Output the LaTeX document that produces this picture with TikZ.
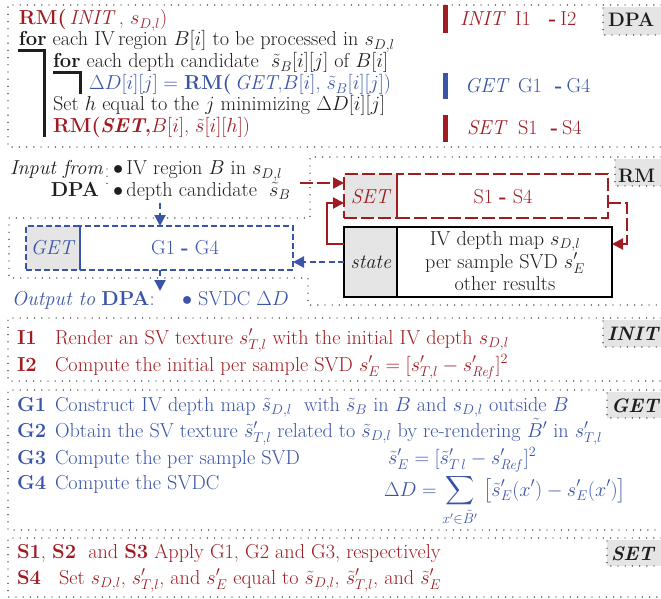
\RequirePackage{fix-cm}
\documentclass[tikz,border=0pt]{standalone}
\usepackage{amsmath,amssymb}
\usetikzlibrary{arrows.meta,calc}
\definecolor{dred}{RGB}{158,28,34}
\definecolor{dblue}{RGB}{58,84,168}
\definecolor{lgray}{RGB}{229,229,229}
\definecolor{ink}{RGB}{30,30,30}

\begin{document}
\begin{tikzpicture}[x=1pt,y=-1pt,
  every node/.style={font=\fontsize{20.2}{24}\selectfont, inner sep=0pt, outer sep=0pt, text=ink},
  txt/.style={anchor=base west},
  ctxt/.style={anchor=base},
  tagfont/.style={font=\fontsize{19.5}{23}\selectfont},
  dots/.style={line width=1.4pt, dash pattern=on 0pt off 7.2pt, line cap=round, draw=ink},
  redbox/.style={draw=dred, line width=2.4pt, dash pattern=on 13pt off 4pt},
  bluebox/.style={draw=dblue, line width=2.4pt, dash pattern=on 6pt off 3pt},
  blackbox/.style={draw=black, line width=2.4pt},
  tip/.style={-{Triangle[length=11pt,width=11pt]}},
  redarrow/.style={tip, draw=dred, line width=2.2pt},
  bluearrow/.style={tip, draw=dblue, line width=2.2pt, dash pattern=on 6pt off 3.5pt},
  bracket/.style={line width=3pt, draw=ink},
  bar/.style={line width=5pt},
]
\path[use as bounding box] (0,0) rectangle (661,599);
\clip (0,0) rectangle (661,599);

% ---------------- DPA: the outer search loop ----------------
\draw[dots] (661,5) -- (8,5) -- (8,147) -- (661,147);
\fill[lgray] (603,7) rectangle (661,35);
\draw[dots] (603,8) -- (603,35) -- (661,35);
\node[txt, tagfont] (dpatag) at (608,27) {\textbf{DPA}};

\node[txt, text=dred] (l1) at (19,25) {\textbf{RM(}\,\textit{INIT}\,, $s_{D,l}$)};
\node[txt] (l2) at (19,46) {\textbf{for} each IV\,region $B[i]$ to be processed in $s_{D,l}$};
\node[txt] (l3) at (53,68) {\textbf{for} each depth candidate \ $\tilde s_B[i][j]$ of $B[i]$};
\node[txt, text=dblue] (l4) at (89,90) {$\Delta D[i][j]=$ \textbf{RM(}\,\textit{GET},$B[i]$, $\tilde s_B[i][j]$)};
\node[txt] (l5) at (53,111) {Set $h$ equal to the $j$ minimizing $\Delta D[i][j]$};
\node[txt, text=dred] (l6) at (53,133) {\textbf{RM(\textit{SET},}$B[i]$, $\tilde s[i][h]$)};

% loop brackets (underline of "for" turning down)
\draw[bracket] (18,50.5) -| (44,137);
\draw[bracket] (53,73) -| (80,94);

% colour bars with the routine names
\draw[bar, dred] (445.5,5) -- (445.5,33);
\draw[bar, dblue] (445.5,73) -- (445.5,99);
\draw[bar, dred] (445.5,115) -- (445.5,142);
\node[txt, text=dred] (rinit) at (460,26) {\textit{INIT}};
\node[txt, text=dred] (rinitn) at (515,26) {I1\hspace{18pt}\textbf{-}\hspace{4pt}I2};
\node[txt, text=dblue] (rget) at (465,93) {\textit{GET}};
\node[txt, text=dblue] (rgetn) at (518,93) {G1\hspace{13pt}\textbf{-}\hspace{4pt}G4};
\node[txt, text=dred] (rset) at (467,135) {\textit{SET}};
\node[txt, text=dred] (rsetn) at (518,135) {S1\hspace{13pt}\textbf{-}\hspace{4pt}S4};

% ---------------- RM: the region module ----------------
\draw[dots] (661,157) -- (310,157) -- (310,218) -- (9,218) -- (9,278) -- (308,278) -- (308,305) -- (661,305);
\fill[lgray] (615,159) rectangle (661,186);
\draw[dots] (615,160) -- (615,186) -- (661,186);
\node[txt, tagfont] (rmtag) at (618,182) {\textbf{RM}};

\node[txt] (infrom) at (10,175) {\textit{Input from}};
\draw[dots] (107,169) -- (107,184);
\node[txt] (inB) at (113,175) {$\bullet\,$IV region $B$ in $s_{D,l}$};
\node[txt, anchor=base east] (indpa) at (99,196) {\textbf{DPA}};
\node[txt] (incand) at (113,196) {$\bullet\,$depth candidate \ $\tilde s_B$};

% GET block
\node[bluebox, fill=lgray, minimum width=54pt, minimum height=44pt] (getcell) at (53,248) {};
\node[bluebox, minimum width=213pt, minimum height=44pt] (getbody) at (186.5,248) {};
\node[ctxt, text=dblue] (gettag) at (53,254) {\textit{GET}};
\node[ctxt, text=dblue] (getsteps) at (185,254) {G1 \textbf{-} G4};

\node[txt, text=dblue] (outl) at (12,305) {\textit{Output to} \textbf{DPA}:};
\node[txt, text=dblue] (outsvdc) at (182,305) {$\bullet$\ SVDC $\Delta D$};

% SET block
\node[redbox, fill=lgray, minimum width=53pt, minimum height=44pt] (setcell) at (370.5,196) {};
\node[redbox, minimum width=211pt, minimum height=44pt] (setbody) at (502.5,196) {};
\node[ctxt, text=dred] (settag) at (371,203) {\textit{SET}};
\node[ctxt, text=dred] (setsteps) at (503,203) {S1 \textbf{-} S4};

% state block
\node[blackbox, fill=lgray, minimum width=53pt, minimum height=70pt] (statecell) at (370.5,262) {};
\node[blackbox, minimum width=215pt, minimum height=70pt] (statebody) at (504.5,262) {};
\node[ctxt] (statetag) at (371,268) {\textit{state}};
\node[ctxt] (st1) at (505,245) {IV depth map $s_{D,l}$};
\node[ctxt] (st2) at (505,268) {per sample SVD $s'_E$};
\node[ctxt] (st3) at (505,290) {other results};

% connectors
\coordinate (redin) at (300,183);
\draw[redarrow, dash pattern=on 13pt off 4pt] (redin) -- (redin -| setcell.west);
\coordinate (loopL) at (327,244);
\draw[redarrow] (statecell.west |- loopL) -- (loopL) |- (setcell.west |- 0,203);
\coordinate (loopR) at (627,203);
\draw[redarrow, dash pattern=on 13pt off 4pt] (setbody.east |- loopR) -- (loopR) |- (statebody.east |- 0,244);
\draw[bluearrow] (statecell.west) -- (statecell.west -| getbody.east);
\coordinate (bluein) at (160,203);
\draw[bluearrow] (bluein) -- (bluein |- getbody.north);
\coordinate (blueout) at (160,291);
\draw[bluearrow] (blueout |- getbody.south) -- (blueout);

% ---------------- INIT ----------------
\draw[dots] (661,318) -- (8,318) -- (8,381) -- (661,381);
\fill[lgray] (603,320) rectangle (661,347);
\draw[dots] (603,321) -- (603,347) -- (661,347);
\node[txt, tagfont] (inittag) at (607,340) {\textbf{\textit{INIT}}};
\node[txt, text=dred] (i1) at (17,344) {\textbf{I1}};
\node[txt, text=dred] (i1t) at (55,344) {Render an SV texture $s'_{T,l}$ with the initial IV depth $s_{D,l}$};
\node[txt, text=dred] (i2) at (17,371) {\textbf{I2}};
\node[txt, text=dred] (i2t) at (55,371) {Compute the initial per sample SVD $s'_E=[s'_{T,l}-s'_{\mathit{Ref}}]^2$};

% ---------------- GET ----------------
\draw[dots] (661,390) -- (8,390) -- (8,530) -- (661,530);
\fill[lgray] (607,392) rectangle (661,418);
\draw[dots] (607,393) -- (607,418) -- (661,418);
\node[txt, tagfont] (gettag2) at (611,412) {\textbf{\textit{GET}}};
\node[txt, text=dblue] (g1) at (17,411) {\textbf{G1}};
\node[txt, text=dblue] (g1t) at (55,411) {Construct IV depth map $\tilde s_{D,l}$ \ with $\tilde s_B$ in $B$ and $s_{D,l}$ outside $B$};
\node[txt, text=dblue] (g2) at (17,437) {\textbf{G2}};
\node[txt, text=dblue] (g2t) at (55,437) {Obtain the SV texture $\tilde s'_{T,l}$ related to $\tilde s_{D,l}$ by re-rendering $\tilde B'$ in $s'_{T,l}$};
\node[txt, text=dblue] (g3) at (17,464) {\textbf{G3}};
\node[txt, text=dblue] (g3t) at (55,464) {Compute the per sample SVD};
\node[txt, text=dblue] (g3f) at (388,464) {$\tilde s'_E=[\tilde s'_{T\,l}-s'_{\mathit{Ref}}]^2$};
\node[txt, text=dblue] (g4) at (17,489) {\textbf{G4}};
\node[txt, text=dblue] (g4t) at (55,489) {Compute the SVDC};
\node[txt, text=dblue] (g4f) at (384,496) {$\displaystyle\Delta D=\sum_{x'\in\tilde B'}\;\bigl[\tilde s'_E(x')-s'_E(x')\bigr]$};

% ---------------- SET ----------------
\draw[dots] (661,538) -- (8,538) -- (8,597) -- (661,597);
\fill[lgray] (607,540) rectangle (661,566);
\draw[dots] (607,541) -- (607,566) -- (661,566);
\node[txt, tagfont] (settag2) at (611,560) {\textbf{\textit{SET}}};
\node[txt, text=dred] (s1) at (17,558) {\textbf{S1}, \textbf{S2}\ \ and \textbf{S3} Apply G1, G2 and G3, respectively};
\node[txt, text=dred] (s4) at (17,584) {\textbf{S4}};
\node[txt, text=dred] (s4t) at (59,584) {Set $s_{D,l}$, $s'_{T,l}$, and $s'_E$ equal to $\tilde s_{D,l}$, $\tilde s'_{T,l}$, and $\tilde s'_E$};
\end{tikzpicture}
\end{document}
